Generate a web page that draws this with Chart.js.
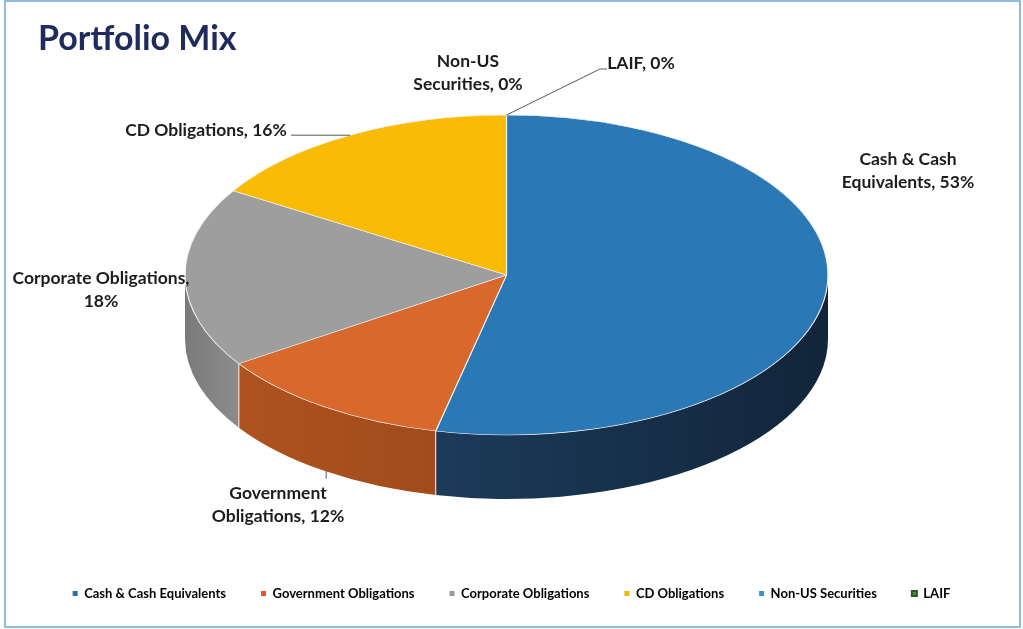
<!DOCTYPE html>
<html>
<head>
<meta charset="utf-8">
<title>Portfolio Mix</title>
<script src="https://cdn.jsdelivr.net/npm/chart.js@4.4.1/dist/chart.umd.min.js"></script>
<style>
  html, body { margin: 0; padding: 0; background: #fff; overflow: hidden; }
  #frame { position: absolute; left: 4px; top: 0; width: 1017px; height: 628px; border: 2px solid #8fbde2; box-sizing: border-box; }
  #wrap { position: absolute; left: 0; top: 0; width: 1023px; height: 629px; }
</style>
</head>
<body>
<div id="frame"></div>
<div id="wrap"><canvas id="mix"></canvas></div>
<script>
// portfolio shares, percent
const categories = ['Cash & Cash Equivalents', 'Government Obligations', 'Corporate Obligations', 'CD Obligations', 'Non-US Securities', 'LAIF'];
const shares = [53, 12, 18, 16, 0, 0];
// how each data label wraps; {v} is replaced by the share
const labelLines = [
  ['Cash & Cash', 'Equivalents, {v}%'],
  ['Government', 'Obligations, {v}%'],
  ['Corporate Obligations,', '{v}%'],
  ['CD Obligations, {v}%'],
  ['Non-US', 'Securities, {v}%'],
  ['LAIF, {v}%']
];
const chartTitle = 'Portfolio Mix';

const topColors = ['#2a78b6', '#d8682b', '#9e9e9e', '#f9bb03', '#3d8fd0', '#4e8a3e'];
const legendColors = ['#2d6fae', '#e0552a', '#9a9a9a', '#f5b400', '#3b8fd0', '#4f8f3f'];
const wallColors = [['#1c3b5a', '#12253a'], ['#ae531f', '#a24b1c'], ['#7a7a7a', '#8c8c8c'], ['#c99600', '#c99600'], ['#2a5f8a', '#2a5f8a'], ['#3b6b30', '#3b6b30']];

// ellipse the pie is projected onto, and the rim thickness
const PIE = { cx: 506.5, cy: 275, rx: 321.5, ry: 160, depth: 64 };
// first-line centre of each data label
const labelPos = [[908, 159], [278, 493], [101, 278], [206, 130], [468, 61], [641, 63]];
const LINE_H = 23.5;

function rimPoint(a, dy) {
  return { x: PIE.cx + PIE.rx * Math.cos(a), y: PIE.cy + PIE.ry * Math.sin(a) + (dy || 0) };
}

// draws the rim of the front half, then squashes the arcs into the ellipse
const pie3d = {
  id: 'pie3d',
  beforeDatasetsDraw(chart) {
    const ctx = chart.ctx;
    const arcs = chart.getDatasetMeta(0).data;
    const edges = [];
    arcs.forEach((arc, i) => {
      const s = Math.max(arc.startAngle, 0);
      const e = Math.min(arc.endAngle, Math.PI);
      if (e - s <= 0) return;
      const xs = rimPoint(s).x, xe = rimPoint(e).x;
      const g = ctx.createLinearGradient(Math.min(xs, xe), 0, Math.max(xs, xe), 0);
      g.addColorStop(0, wallColors[i][0]);
      g.addColorStop(1, wallColors[i][1]);
      ctx.beginPath();
      ctx.ellipse(PIE.cx, PIE.cy, PIE.rx, PIE.ry, 0, s, e);
      ctx.ellipse(PIE.cx, PIE.cy + PIE.depth, PIE.rx, PIE.ry, 0, e, s, true);
      ctx.closePath();
      ctx.fillStyle = g;
      ctx.fill();
      if (s > 0) edges.push(s);
    });
    ctx.save();
    ctx.strokeStyle = 'rgba(250,225,205,0.9)';
    ctx.lineWidth = 1.2;
    edges.forEach(a => {
      const p = rimPoint(a);
      ctx.beginPath();
      ctx.moveTo(p.x, p.y);
      ctx.lineTo(p.x, p.y + PIE.depth);
      ctx.stroke();
    });
    ctx.restore();

    const a0 = arcs[0];
    ctx.save();
    ctx.translate(PIE.cx, PIE.cy);
    ctx.scale(PIE.rx / a0.outerRadius, PIE.ry / a0.outerRadius);
    ctx.translate(-a0.x, -a0.y);
  },
  afterDatasetsDraw(chart) {
    chart.ctx.restore();
  }
};

// title, callouts and leader lines
const pieLabels = {
  id: 'pieLabels',
  afterDraw(chart) {
    const ctx = chart.ctx;
    const arcs = chart.getDatasetMeta(0).data;
    const mid = i => (arcs[i].startAngle + arcs[i].endAngle) / 2;
    ctx.save();
    ctx.fillStyle = '#1f2b5c';
    ctx.font = 'bold 34px Lato';
    ctx.textAlign = 'left';
    ctx.textBaseline = 'alphabetic';
    ctx.fillText(chartTitle, 38, 50);

    ctx.strokeStyle = '#5a5a5a';
    ctx.lineWidth = 1;
    // CD Obligations
    let p = rimPoint(mid(3));
    ctx.beginPath(); ctx.moveTo(291, p.y); ctx.lineTo(p.x, p.y); ctx.stroke();
    // Government Obligations, from the bottom of the rim
    p = rimPoint(mid(1), PIE.depth);
    ctx.beginPath(); ctx.moveTo(p.x + 2, p.y); ctx.lineTo(p.x + 2, p.y + 8); ctx.stroke();
    // LAIF
    p = rimPoint(mid(5));
    ctx.beginPath(); ctx.moveTo(607, 69); ctx.lineTo(600, 69); ctx.lineTo(p.x, p.y); ctx.stroke();

    ctx.fillStyle = '#1c1c1c';
    ctx.font = 'bold 17.5px Lato';
    ctx.textAlign = 'center';
    ctx.textBaseline = 'middle';
    labelLines.forEach((lines, i) => {
      const [x, y] = labelPos[i];
      lines.forEach((t, k) => ctx.fillText(t.replace('{v}', shares[i]), x, y + k * LINE_H));
    });
    ctx.restore();
  }
};

new Chart(document.getElementById('mix'), {
  type: 'pie',
  data: {
    labels: categories,
    datasets: [{
      data: shares,
      backgroundColor: topColors,
      borderColor: '#f2f2f2',
      borderWidth: 0.9,
      clip: false
    }]
  },
  options: {
    responsive: true,
    maintainAspectRatio: false,
    animation: false,
    events: [],
    layout: { padding: { left: 0, right: 0, top: 60, bottom: 19 } },
    plugins: {
      title: { display: false },
      legend: {
        position: 'bottom',
        labels: {
          boxWidth: 5,
          boxHeight: 5,
          padding: 35,
          color: '#1a1a1a',
          font: { family: 'Lato', size: 13, weight: 'bold' },
          generateLabels: () => categories.map((name, i) => ({
            text: name,
            fillStyle: legendColors[i],
            strokeStyle: i === 5 ? '#2c5526' : legendColors[i],
            lineWidth: i === 5 ? 2 : 0,
            hidden: false,
            index: i
          }))
        }
      },
      tooltip: { enabled: false }
    }
  },
  plugins: [pie3d, pieLabels]
});
</script>
</body>
</html>
